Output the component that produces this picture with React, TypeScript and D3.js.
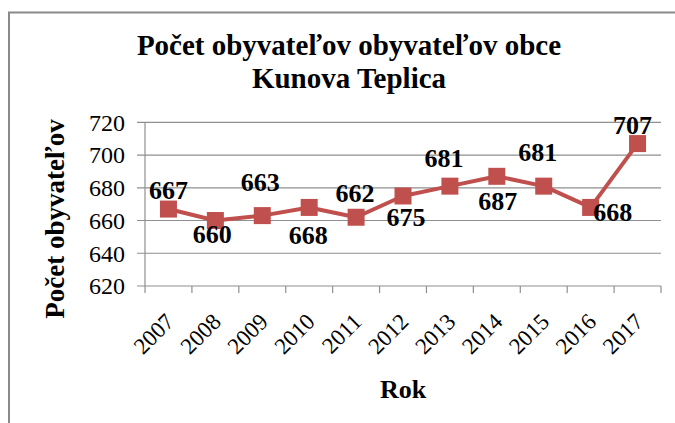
import React, { useEffect, useRef } from "react";
import * as d3 from "d3";

const years = ["2007", "2008", "2009", "2010", "2011", "2012", "2013", "2014", "2015", "2016", "2017"];
const population = [667, 660, 663, 668, 662, 675, 681, 687, 681, 668, 707];
const yTicks = [620, 640, 660, 680, 700, 720];
const titleLines = ["Počet obyvateľov obyvateľov obce", "Kunova Teplica"];
const xTitle = "Rok";
const yTitle = "Počet obyvateľov";

// hand placed data labels in the original, offset from the marker (to the baseline)
const labelOffsets = [
  [0, -10], [-3, 22], [-2, -25], [-1, 37], [-1, -15], [3, 30],
  [-6, -19], [1, 34], [-6, -25], [22, 14], [-5, -10]
];

const FONT = '"Liberation Serif"';
const RED = "#c0504d";
const GRID = "#8f8f8f";

export default function App() {
  const ref = useRef<SVGSVGElement>(null);

  useEffect(() => {
    const svg = d3.select(ref.current);
    svg.selectAll("*").remove();

    const plot = { left: 145, right: 661, top: 122.3, bottom: 286 };

    const x = d3.scaleBand().domain(years).range([plot.left, plot.right]);
    const y = d3.scaleLinear().domain([620, 720]).range([plot.bottom, plot.top]);

    svg.append("rect")
      .attr("width", 675).attr("height", 423).attr("fill", "#fff");

    // outer chart frame
    svg.append("rect")
      .attr("x", 9).attr("y", 12.5)
      .attr("width", 720).attr("height", 460)
      .attr("fill", "none").attr("stroke", "#8a8a8a").attr("stroke-width", 2);

    // title
    const title = svg.append("text")
      .style("font-family", FONT).attr("font-weight", "bold")
      .attr("font-size", 29).attr("text-anchor", "middle").attr("fill", "#000");
    titleLines.forEach((t, i) => {
      title.append("tspan").attr("x", 349).attr("y", 55 + i * 33).text(t);
    });

    // gridlines + y ticks
    svg.append("g").selectAll("line").data(yTicks).join("line")
      .attr("x1", plot.left - 8).attr("x2", plot.right)
      .attr("y1", d => y(d)).attr("y2", d => y(d))
      .attr("stroke", GRID).attr("stroke-width", 1.2);

    svg.append("line")
      .attr("x1", plot.left).attr("x2", plot.left)
      .attr("y1", plot.top).attr("y2", plot.bottom)
      .attr("stroke", GRID).attr("stroke-width", 1.2);

    svg.append("g").selectAll("text").data(yTicks).join("text")
      .attr("x", 125).attr("y", d => y(d)).attr("dy", "0.35em")
      .attr("text-anchor", "end")
      .style("font-family", FONT).attr("font-size", 24).attr("fill", "#000")
      .text(d => d);

    // x axis ticks at category boundaries
    const bounds = years.map(d => x(d)!).concat([plot.right]);
    svg.append("g").selectAll("line").data(bounds).join("line")
      .attr("x1", d => d).attr("x2", d => d)
      .attr("y1", plot.bottom).attr("y2", plot.bottom + 7)
      .attr("stroke", GRID).attr("stroke-width", 1.2);

    svg.append("g").selectAll("text").data(years).join("text")
      .attr("transform", d => `translate(${x(d)! + x.bandwidth() / 2 + 7},${plot.bottom + 37}) rotate(-45)`)
      .attr("text-anchor", "end")
      .style("font-family", FONT).attr("font-size", 23).attr("fill", "#000")
      .text(d => d);

    // axis titles
    svg.append("text")
      .attr("x", (plot.left + plot.right) / 2).attr("y", 398)
      .attr("text-anchor", "middle")
      .style("font-family", FONT).attr("font-weight", "bold").attr("font-size", 26)
      .text(xTitle);

    svg.append("text")
      .attr("transform", `translate(64,219) rotate(-90)`)
      .attr("text-anchor", "middle")
      .style("font-family", FONT).attr("font-weight", "bold").attr("font-size", 27)
      .text(yTitle);

    // series
    const cx = (d: string) => x(d)! + x.bandwidth() / 2;
    const line = d3.line<number>()
      .x((_, i) => cx(years[i]))
      .y(d => y(d));

    svg.append("path")
      .datum(population)
      .attr("d", line)
      .attr("fill", "none").attr("stroke", RED).attr("stroke-width", 4)
      .attr("stroke-linejoin", "round");

    const m = 17;
    svg.append("g").selectAll("rect").data(population).join("rect")
      .attr("x", (_, i) => cx(years[i]) - m / 2)
      .attr("y", d => y(d) - m / 2)
      .attr("width", m).attr("height", m)
      .attr("fill", RED);

    svg.append("g").selectAll("text").data(population).join("text")
      .attr("x", (_, i) => cx(years[i]) + labelOffsets[i][0])
      .attr("y", (d, i) => y(d) + labelOffsets[i][1])
      .attr("text-anchor", "middle")
      .style("font-family", FONT).attr("font-weight", "bold").attr("font-size", 26)
      .attr("fill", "#000")
      .text(d => d);
  }, []);

  return (
    <svg
      ref={ref}
      width={675}
      height={423}
      style={{ position: "absolute", left: 0, top: 0, display: "block" }}
    />
  );
}
